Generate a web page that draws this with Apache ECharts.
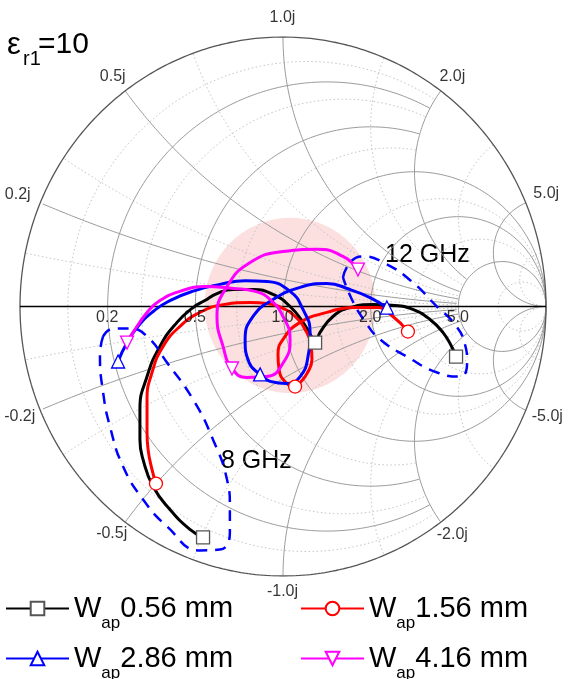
<!DOCTYPE html>
<html><head><meta charset="utf-8">
<script src="https://cdn.jsdelivr.net/npm/echarts@6/dist/echarts.min.js"></script>
<style>html,body{margin:0;padding:0;background:#fff}#c{width:568px;height:679px}</style>
</head><body><div id="c"></div>
<script>
// ---- DATA (reflection coefficient Γ = [Re, Im]) ----
const seriesLabels = ['0.56 mm', '1.56 mm', '2.86 mm', '4.16 mm'];

const wap056 = [[-0.304,-0.857],[-0.354,-0.827],[-0.430,-0.753],[-0.494,-0.668],[-0.532,-0.568],[-0.544,-0.494],[-0.544,-0.382],[-0.517,-0.260],[-0.468,-0.148],[-0.403,-0.059],[-0.342,-0.004],[-0.297,0.022],[-0.251,0.048],[-0.190,0.063],[-0.114,0.063],[-0.038,0.045],[0.027,0.000],[0.076,-0.059],[0.110,-0.115],[0.122,-0.134],[0.141,-0.096],[0.190,-0.037],[0.255,-0.004],[0.342,0.007],[0.426,0.004],[0.494,-0.011],[0.559,-0.048],[0.608,-0.096],[0.643,-0.152],[0.658,-0.186]];
const wap056Markers = [0, 19, 29];

const wap156 = [[-0.483,-0.657],[-0.498,-0.605],[-0.513,-0.531],[-0.517,-0.468],[-0.517,-0.345],[-0.498,-0.245],[-0.456,-0.148],[-0.392,-0.074],[-0.316,-0.022],[-0.228,0.007],[-0.125,0.015],[-0.061,0.011],[0.000,-0.007],[0.046,-0.037],[0.084,-0.085],[0.106,-0.141],[0.110,-0.197],[0.091,-0.249],[0.065,-0.282],[0.046,-0.297],[0.011,-0.282],[-0.015,-0.234],[-0.019,-0.178],[0.000,-0.122],[0.065,-0.059],[0.167,-0.022],[0.266,-0.004],[0.357,-0.004],[0.418,-0.037],[0.475,-0.093]];
const wap156Markers = [0, 19, 29];

const wap286 = [[-0.627,-0.204],[-0.597,-0.141],[-0.555,-0.078],[-0.498,-0.022],[-0.430,0.022],[-0.335,0.059],[-0.240,0.082],[-0.144,0.096],[-0.061,0.093],[0.027,0.056],[0.076,-0.011],[0.103,-0.096],[0.095,-0.186],[0.065,-0.260],[0.015,-0.286],[-0.049,-0.278],[-0.087,-0.252],[-0.129,-0.208],[-0.144,-0.122],[-0.114,-0.037],[-0.038,0.026],[0.065,0.071],[0.167,0.085],[0.255,0.063],[0.331,0.033],[0.395,-0.004]];
const wap286Markers = [0, 16, 25];

const wap416 = [[-0.593,-0.134],[-0.570,-0.096],[-0.517,-0.022],[-0.468,0.022],[-0.392,0.056],[-0.297,0.074],[-0.190,0.067],[-0.106,0.056],[-0.049,0.026],[0.000,-0.037],[0.027,-0.122],[0.004,-0.204],[-0.061,-0.260],[-0.137,-0.263],[-0.194,-0.230],[-0.228,-0.148],[-0.251,-0.037],[-0.213,0.074],[-0.125,0.163],[0.000,0.204],[0.129,0.212],[0.228,0.186],[0.285,0.137]];
const wap416Markers = [0, 14, 22];

// dashed outlines grouping the 8 GHz and 12 GHz end points
const loop8GHz = [[-0.684,-0.111],[-0.696,-0.178],[-0.684,-0.319],[-0.658,-0.445],[-0.608,-0.594],[-0.532,-0.716],[-0.441,-0.816],[-0.316,-0.905],[-0.240,-0.902],[-0.202,-0.839],[-0.202,-0.742],[-0.213,-0.642],[-0.266,-0.494],[-0.342,-0.345],[-0.441,-0.208],[-0.517,-0.111],[-0.582,-0.082],[-0.646,-0.082],[-0.684,-0.111]];
const loop12GHz = [[0.228,0.108],[0.255,0.163],[0.300,0.186],[0.388,0.160],[0.494,0.089],[0.578,0.007],[0.654,-0.067],[0.692,-0.141],[0.700,-0.204],[0.673,-0.260],[0.586,-0.245],[0.471,-0.186],[0.369,-0.122],[0.312,-0.056],[0.262,0.026],[0.228,0.108]];

// shaded region (circle in Γ plane)
const shadeCenter = [0.027, 0.004];
const shadeRadius = 0.325;

// Smith grid values
const rMajor = [0.2, 0.5, 1, 2, 5];
const rMinor = [0.1, 0.3, 0.7, 1.5, 3, 10];
const xMajor = [0.2, 0.5, 1, 2, 5];
const xMinor = [0.1, 0.3, 0.7, 1.5, 3, 10];
const rTickLabels = [0.2, 0.5, 1.0, 2.0, 5.0];
const xTickLabels = [1.0, 0.5, 2.0, 0.2, 5.0, -0.2, -5.0, -0.5, -2.0, -1.0];

// ---- geometry helpers ----
function zOf(u, v) {
  const d = (1 - u) * (1 - u) + v * v;
  if (d < 1e-12) return [Infinity, Infinity];
  return [(1 - u * u - v * v) / d, 2 * v / d];
}
function rCircle(r, xmax) {
  const N = 900, pts = [];
  for (let i = 0; i <= N; i++) {
    const t = 2 * Math.PI * i / N;
    const u = r / (1 + r) + Math.cos(t) / (1 + r);
    const v = Math.sin(t) / (1 + r);
    const z = zOf(u, v);
    if (Math.abs(z[1]) <= xmax) pts.push([u, v]);
  }
  return pts;
}
function xArc(x, rmax) {
  const N = 1200, pts = [];
  const R = 1 / Math.abs(x);
  for (let i = 0; i <= N; i++) {
    const t = Math.PI / 2 + Math.PI * i / N;
    const u = 1 + R * Math.cos(t);
    const v = 1 / x + R * Math.sin(t);
    if (u * u + v * v > 1 + 1e-9) continue;
    const z = zOf(u, v);
    if (z[0] <= rmax) pts.push([u, v]);
  }
  return pts;
}
function gridLine(pts, color, type, width) {
  return { type: 'line', data: pts, symbol: 'none', silent: true, animation: false, z: 2,
    lineStyle: { color: color, width: width, type: type } };
}

const series = [];
// shaded disc
series.push({
  type: 'custom', coordinateSystem: 'cartesian2d', silent: true, z: 1, animation: false,
  data: [[shadeCenter[0], shadeCenter[1], shadeRadius]],
  renderItem: function (params, api) {
    const cu = api.value(0), cv = api.value(1), rad = api.value(2);
    const pts = [];
    for (let i = 0; i < 180; i++) {
      const a = 2 * Math.PI * i / 180;
      pts.push(api.coord([cu + rad * Math.cos(a), cv + rad * Math.sin(a)]));
    }
    return { type: 'polygon', shape: { points: pts }, style: { fill: '#fcdfdf' } };
  }
});
// grid
const MAJ = '#9a9a9a', MIN = '#c4c4c4';
rMinor.forEach(r => series.push(gridLine(rCircle(r, r < 1 ? 2 : Infinity), MIN, [1.5, 2.5], 1)));
xMinor.forEach(x => {
  const rm = x < 5 ? 5 : Infinity;
  series.push(gridLine(xArc(x, rm), MIN, [1.5, 2.5], 1));
  series.push(gridLine(xArc(-x, rm), MIN, [1.5, 2.5], 1));
});
rMajor.forEach(r => series.push(gridLine(rCircle(r, r < 1 ? 2 : Infinity), MAJ, 'solid', 1)));
xMajor.forEach(x => {
  const rm = x < 5 ? 5 : Infinity;
  series.push(gridLine(xArc(x, rm), MAJ, 'solid', 1));
  series.push(gridLine(xArc(-x, rm), MAJ, 'solid', 1));
});
series.push(gridLine(rCircle(0, Infinity), '#555', 'solid', 1.3));
series.push(gridLine([[-1, 0], [1, 0]], '#000', 'solid', 1.3));

// data curves
function curve(name, pts, markers, color, symbol, rotate, stroke) {
  return {
    type: 'line', name: name, animation: false, z: 5, smooth: 0.5,
    data: pts.map((p, i) => markers.indexOf(i) >= 0 ? { value: p } : { value: p, symbol: 'none' }),
    symbol: symbol, symbolRotate: rotate, symbolSize: 13, showSymbol: true,
    lineStyle: { color: color, width: 3 },
    itemStyle: { color: '#fff', borderColor: stroke, borderWidth: 1.3 }
  };
}
series.push(curve(seriesLabels[0], wap056, wap056Markers, '#000000', 'rect', 0, '#555'));
series.push(curve(seriesLabels[1], wap156, wap156Markers, '#ff0000', 'circle', 0, '#ff0000'));
series.push(curve(seriesLabels[2], wap286, wap286Markers, '#0000ff', 'triangle', 0, '#0000ff'));
series.push(curve(seriesLabels[3], wap416, wap416Markers, '#ff00ff', 'triangle', 180, '#ff00ff'));

// dashed groups
[loop8GHz, loop12GHz].forEach(l => series.push({
  type: 'line', data: l, symbol: 'none', smooth: 0.5, silent: true, animation: false, z: 6,
  lineStyle: { color: '#0000ff', width: 2.5, type: [11, 8] }
}));

// grid labels
const labelOffsets = {
  '1.0j': [0, -19], '0.5j': [-12, -14], '2.0j': [12, -14], '0.2j': [-22, -8], '5.0j': [21, -9],
  '-0.2j': [-20, 7], '-5.0j': [22, 7], '-0.5j': [-13, 12], '-2.0j': [12, 13], '-1.0j': [0, 16]
};
const labelItems = [];
rTickLabels.forEach(r => labelItems.push({ value: [(r - 1) / (r + 1), 0], text: r.toFixed(1), off: [0, 12] }));
xTickLabels.forEach(x => {
  const t = x.toFixed(1) + 'j';
  labelItems.push({ value: [(x * x - 1) / (x * x + 1), 2 * x / (x * x + 1)], text: t, off: labelOffsets[t] });
});
series.push({
  type: 'scatter', silent: true, animation: false, z: 7, symbolSize: 1,
  itemStyle: { color: 'rgba(0,0,0,0)' },
  data: labelItems.map(d => ({
    value: d.value, text: d.text,
    label: { show: true, position: [d.off[0], d.off[1]], align: 'center', verticalAlign: 'middle' }
  })),
  label: { show: true, formatter: p => p.data.text, color: '#000', fontSize: 16,
           fontFamily: 'Liberation Sans, Arial, sans-serif' }
});

const FONT = 'Liberation Sans, Arial, sans-serif';
function legendAt(i, left, top) {
  return {
    data: [seriesLabels[i]], left: left, top: top, padding: 0, selectedMode: false,
    itemWidth: 63, itemHeight: 17, itemGap: 0,
    formatter: n => '{w|W}{s|ap}{w|' + n + '}',
    textStyle: {
      fontFamily: FONT, color: '#000', padding: [0, 0, 0, 0],
      rich: { w: { fontSize: 29, fontFamily: FONT, color: '#000' },
              s: { fontSize: 17, fontFamily: FONT, color: '#000', padding: [30, 0, 0, 0] } }
    }
  };
}

const chart = echarts.init(document.getElementById('c'), null, { renderer: 'canvas' });
chart.setOption({
  animation: false,
  backgroundColor: '#fff',
  grid: { left: 20, top: 37, width: 526, height: 539 },
  xAxis: { type: 'value', min: -1, max: 1, show: false },
  yAxis: { type: 'value', min: -1, max: 1, show: false },
  legend: [legendAt(0, 5, 594), legendAt(1, 300, 594), legendAt(2, 5, 644), legendAt(3, 300, 644)],
  graphic: [
    { type: 'text', left: 7, top: 30, style: { text: 'ε', font: '31px ' + FONT, fill: '#000' } },
    { type: 'text', left: 23, top: 49, style: { text: 'r1', font: '20px ' + FONT, fill: '#000' } },
    { type: 'text', left: 38, top: 30, style: { text: '=10', font: '30px ' + FONT, fill: '#000' } },
    { type: 'text', left: 385, top: 243, style: { text: '12 GHz', font: '25px ' + FONT, fill: '#000' } },
    { type: 'text', left: 221, top: 449, style: { text: '8 GHz', font: '25px ' + FONT, fill: '#000' } }
  ],
  series: series
});
</script></body></html>
